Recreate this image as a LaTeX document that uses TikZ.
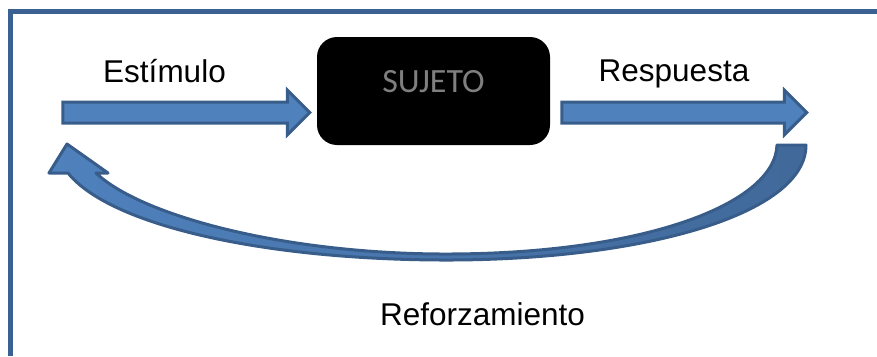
\documentclass[tikz,border=0pt]{standalone}
\usepackage{fontspec}
\setmainfont{Liberation Sans}
\newfontfamily\boxfont{Carlito}
\usetikzlibrary{shapes.arrows}
\definecolor{arrowfill}{HTML}{4F81BD}
\definecolor{arrowdark}{HTML}{41699A}
\definecolor{arrowline}{HTML}{385D8A}
\definecolor{framecol}{HTML}{3A6191}
\definecolor{boxtext}{HTML}{7F7F7F}
\begin{document}
\begin{tikzpicture}[x=1pt, y=-1pt,
  every node/.style={font=\fontsize{31.5}{38}\selectfont},
  blockarrow/.style={single arrow, draw=arrowline, fill=arrowfill, line width=3pt,
    minimum width=42pt, inner xsep=0pt, inner ysep=9pt,
    single arrow head extend=12pt, single arrow tip angle=90}]
\useasboundingbox (0,0) rectangle (877,356);
\draw[framecol, line width=5pt] (10,356) -- (10,11) -- (877,11);

\node (Sujeto) at (433.5,91) [fill=black, rounded corners=20pt, minimum width=233pt, minimum height=108pt, text=boxtext, text depth=19pt, font=\boxfont\fontsize{34}{40}\selectfont] {SUJETO};
\node (In) at (181,112.5) [blockarrow, minimum height=247pt] {};
\node (Out) at (679,112.5) [blockarrow, minimum height=245pt] {};

\node (Estimulo) at (164.5,82) [anchor=base] {Estímulo};
\node (Respuesta) at (674,81) [anchor=base] {Respuesta};
\node (Refuerzo) at (482.5,325) [anchor=base] {Reforzamiento};

\path[draw=arrowline, line width=3pt, line join=round, left color=arrowfill, right color=arrowdark]
  (806,145) .. controls (806,215) and (640,261) .. (440,260)
  .. controls (260,259) and (110,225) .. (68,173)
  -- (49,173) -- (67,144) -- (108,173) -- (96,173)
  .. controls (140,215) and (280,253) .. (440,254)
  .. controls (640,255) and (775,205) .. (777,145) -- cycle;
\end{tikzpicture}
\end{document}
